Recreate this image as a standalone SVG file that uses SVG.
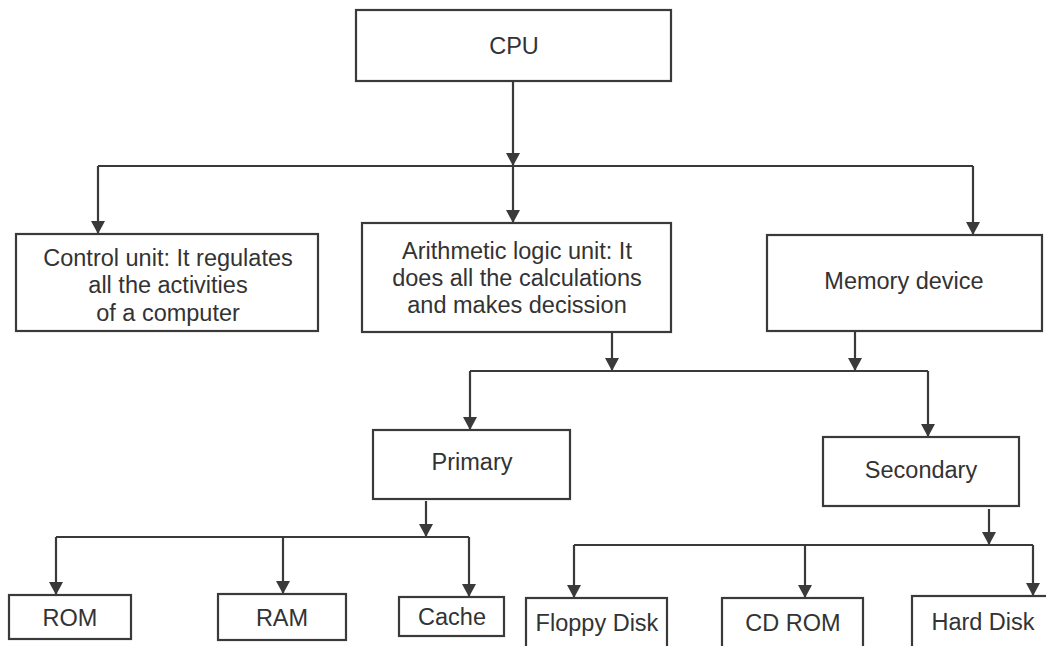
<svg xmlns="http://www.w3.org/2000/svg" width="1046" height="646" viewBox="0 0 1046 646">
  <style>
    .box { fill: #ffffff; stroke: #3a3a3a; stroke-width: 2.2; }
    .lbl { font-family: "Liberation Sans", Arial, sans-serif; font-size: 23.5px; fill: #333333; text-anchor: middle; }
    .wire { fill: none; stroke: #3a3a3a; stroke-width: 2.2; }
    .arr { marker-end: url(#head); }
  </style>
  <defs>
    <marker id="head" markerUnits="userSpaceOnUse" markerWidth="14" markerHeight="14" refX="13" refY="7" orient="auto" viewBox="0 0 14 14">
      <path d="M0,0 L13,7 L0,14 Z" fill="#3a3a3a"/>
    </marker>
  </defs>
  <rect width="1046" height="646" fill="#ffffff"/>

  <!-- connectors -->
  <g id="connectors">
    <!-- CPU to its three parts -->
    <line class="wire arr" x1="513" y1="81" x2="513" y2="166"/>
    <line class="wire" x1="98" y1="166" x2="973" y2="166"/>
    <line class="wire arr" x1="98" y1="166" x2="98" y2="234"/>
    <line class="wire arr" x1="513" y1="166" x2="513" y2="223"/>
    <line class="wire arr" x1="973" y1="166" x2="973" y2="235"/>
    <!-- ALU / memory to primary and secondary -->
    <line class="wire arr" x1="612" y1="332" x2="612" y2="371"/>
    <line class="wire arr" x1="855" y1="331" x2="855" y2="371"/>
    <line class="wire" x1="470" y1="371" x2="928" y2="371"/>
    <line class="wire arr" x1="470" y1="371" x2="470" y2="430"/>
    <line class="wire arr" x1="928" y1="371" x2="928" y2="437"/>
    <!-- primary memory types -->
    <line class="wire arr" x1="426" y1="501" x2="426" y2="537"/>
    <line class="wire" x1="56" y1="537" x2="469" y2="537"/>
    <line class="wire arr" x1="56" y1="537" x2="56" y2="595"/>
    <line class="wire arr" x1="283" y1="537" x2="283" y2="594"/>
    <line class="wire arr" x1="469" y1="537" x2="469" y2="597"/>
    <!-- secondary memory types -->
    <line class="wire arr" x1="989" y1="509" x2="989" y2="545"/>
    <line class="wire" x1="574" y1="545" x2="1033" y2="545"/>
    <line class="wire arr" x1="574" y1="545" x2="574" y2="598"/>
    <line class="wire arr" x1="805" y1="545" x2="805" y2="598"/>
    <line class="wire arr" x1="1033" y1="545" x2="1033" y2="596"/>
  </g>

  <g id="cpu">
    <rect class="box" x="356" y="10" width="315" height="71"/>
    <text class="lbl" x="514" y="54">CPU</text>
  </g>

  <g id="control-unit">
    <rect class="box" x="16" y="234" width="302" height="97"/>
    <text class="lbl" x="168" y="266">Control unit: It regulates</text>
    <text class="lbl" x="168" y="293">all the activities</text>
    <text class="lbl" x="168" y="321">of a computer</text>
  </g>

  <g id="alu">
    <rect class="box" x="362" y="223" width="309" height="109"/>
    <text class="lbl" x="517" y="259">Arithmetic logic unit: It</text>
    <text class="lbl" x="517" y="286">does all the calculations</text>
    <text class="lbl" x="517" y="313">and makes decission</text>
  </g>

  <g id="memory">
    <rect class="box" x="767" y="235" width="275" height="96"/>
    <text class="lbl" x="904" y="289">Memory device</text>
  </g>

  <g id="primary">
    <rect class="box" x="373" y="430" width="197" height="69"/>
    <text class="lbl" x="472" y="470">Primary</text>
  </g>

  <g id="secondary">
    <rect class="box" x="823" y="437" width="196" height="69"/>
    <text class="lbl" x="921" y="478">Secondary</text>
  </g>

  <g id="rom">
    <rect class="box" x="9" y="595" width="122" height="44"/>
    <text class="lbl" x="70" y="626">ROM</text>
  </g>

  <g id="ram">
    <rect class="box" x="218" y="594" width="128" height="46"/>
    <text class="lbl" x="282" y="626">RAM</text>
  </g>

  <g id="cache">
    <rect class="box" x="399" y="597" width="105" height="39"/>
    <text class="lbl" x="452" y="625">Cache</text>
  </g>

  <g id="floppy">
    <rect class="box" x="526" y="598" width="141" height="70"/>
    <text class="lbl" x="597" y="631">Floppy Disk</text>
  </g>

  <g id="cdrom">
    <rect class="box" x="722" y="598" width="141" height="70"/>
    <text class="lbl" x="793" y="631">CD ROM</text>
  </g>

  <g id="harddisk">
    <rect class="box" x="912" y="596" width="160" height="72"/>
    <text class="lbl" x="983" y="630">Hard Disk</text>
  </g>
</svg>
